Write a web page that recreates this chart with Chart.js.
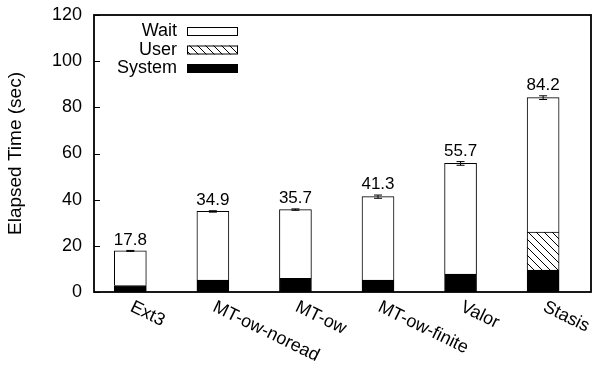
<!DOCTYPE html>
<html>
<head>
<meta charset="utf-8">
<script src="https://cdn.jsdelivr.net/npm/chart.js@4/dist/chart.umd.min.js"></script>
<style>
  html, body { margin: 0; padding: 0; background: #fff; }
  #wrap { width: 600px; height: 371px; }
</style>
</head>
<body>
<div id="wrap"><canvas id="myChart"></canvas></div>
<script>
const categories = ['Ext3', 'MT-ow-noread', 'MT-ow', 'MT-ow-finite', 'Valor', 'Stasis'];
const systemTime = [2.8, 5.2, 5.9, 5.2, 7.8, 9.5];
const userTime = [0, 0, 0, 0, 0, 16.5];
const waitTime = [15.0, 29.7, 29.8, 36.1, 47.9, 58.2];
const totals = [17.8, 34.9, 35.7, 41.3, 55.7, 84.2];
const errors = [0.2, 0.3, 0.3, 0.7, 0.8, 0.8];
const yTicks = [0, 20, 40, 60, 80, 100, 120];

document.addEventListener('DOMContentLoaded', () => {
    Chart.defaults.font.family = '"Liberation Sans", Arial, sans-serif';
    Chart.defaults.color = '#000';

    // hatch for the User segment
    function makeHatch() {
        const c = document.createElement('canvas');
        c.width = 8;
        c.height = 8;
        const g = c.getContext('2d');
        g.fillStyle = '#fff';
        g.fillRect(0, 0, 8, 8);
        g.strokeStyle = '#000';
        g.lineWidth = 1;
        g.beginPath();
        g.moveTo(-1, -1); g.lineTo(9, 9);
        g.moveTo(-1, 7); g.lineTo(1, 9);
        g.moveTo(7, -1); g.lineTo(9, 1);
        g.stroke();
        return g.createPattern(c, 'repeat');
    }
    const hatch = makeHatch();

    const pts = arr => arr.map((v, i) => ({ x: i, y: v }));

    const extras = {
        id: 'extras',
        afterDatasetsDraw(chart) {
            const ctx = chart.ctx;
            const xs = chart.scales.x;
            const ys = chart.scales.y;
            const a = chart.chartArea;
            ctx.save();

            // frame
            ctx.strokeStyle = '#000';
            ctx.lineWidth = 1.8;
            ctx.strokeRect(a.left, a.top, a.right - a.left, a.bottom - a.top);

            // inward y ticks
            ctx.lineWidth = 1;
            yTicks.forEach(t => {
                const y = Math.round(ys.getPixelForValue(t)) + 0.5;
                ctx.beginPath();
                ctx.moveTo(a.left, y);
                ctx.lineTo(a.left + 6, y);
                ctx.stroke();
            });

            // error bars and totals
            ctx.font = '17px "Liberation Sans", Arial, sans-serif';
            ctx.fillStyle = '#000';
            ctx.textAlign = 'center';
            ctx.textBaseline = 'bottom';
            totals.forEach((t, i) => {
                const x = xs.getPixelForValue(i);
                const yHi = ys.getPixelForValue(t + errors[i]);
                const yLo = ys.getPixelForValue(t - errors[i]);
                ctx.beginPath();
                ctx.moveTo(x, yHi); ctx.lineTo(x, yLo);
                ctx.moveTo(x - 4, yHi); ctx.lineTo(x + 4, yHi);
                ctx.moveTo(x - 4, yLo); ctx.lineTo(x + 4, yLo);
                ctx.stroke();
                ctx.fillText(t.toFixed(1), x, yHi - 2);
            });

            // rotated category labels
            ctx.font = '18px "Liberation Sans", Arial, sans-serif';
            ctx.textAlign = 'left';
            ctx.textBaseline = 'top';
            categories.forEach((c, i) => {
                const x = xs.getPixelForValue(i);
                ctx.save();
                ctx.translate(x + 5, a.bottom + 6);
                ctx.rotate(26 * Math.PI / 180);
                ctx.fillText(c, 0, 0);
                ctx.restore();
            });

            // legend
            const items = [
                { label: 'Wait', fill: '#fff' },
                { label: 'User', fill: hatch },
                { label: 'System', fill: '#000' }
            ];
            ctx.textAlign = 'right';
            ctx.textBaseline = 'middle';
            items.forEach((it, k) => {
                const cy = 31.5 + k * 18.5;
                ctx.fillStyle = '#000';
                ctx.fillText(it.label, 177, cy);
                ctx.fillStyle = it.fill;
                ctx.fillRect(187, cy - 4.5, 51, 9);
                ctx.strokeRect(187.5, cy - 4, 50, 8);
            });

            ctx.restore();
        }
    };

    new Chart(document.getElementById('myChart'), {
        type: 'bar',
        data: {
            datasets: [
                { label: 'System', data: pts(systemTime), backgroundColor: '#000', borderColor: '#000', borderWidth: 1 },
                { label: 'User', data: pts(userTime), backgroundColor: hatch, borderColor: '#000', borderWidth: 1 },
                { label: 'Wait', data: pts(waitTime), backgroundColor: '#fff', borderColor: '#000', borderWidth: 1 }
            ]
        },
        options: {
            responsive: true,
            maintainAspectRatio: false,
            animation: false,
            layout: { padding: { top: 15, right: 9, left: 0, bottom: 0 } },
            barThickness: 32,
            plugins: {
                legend: { display: false },
                tooltip: { enabled: false }
            },
            scales: {
                x: {
                    type: 'linear',
                    stacked: true,
                    offset: false,
                    min: -0.44,
                    max: 5.58,
                    ticks: { display: false },
                    grid: { display: false, drawTicks: false },
                    border: { display: false },
                    afterFit: s => { s.height = 79; s.paddingLeft = 0; s.paddingRight = 0; }
                },
                y: {
                    stacked: true,
                    min: 0,
                    max: 120,
                    ticks: { stepSize: 20, padding: 12, font: { size: 18 }, color: '#000' },
                    grid: { display: false, drawTicks: false },
                    border: { display: false },
                    title: { display: true, text: 'Elapsed Time (sec)', font: { size: 19 }, color: '#000', padding: 4 },
                    afterFit: s => { s.width = 94; s.paddingTop = 0; s.paddingBottom = 0; }
                }
            }
        },
        plugins: [extras]
    });
});
</script>
</body>
</html>
